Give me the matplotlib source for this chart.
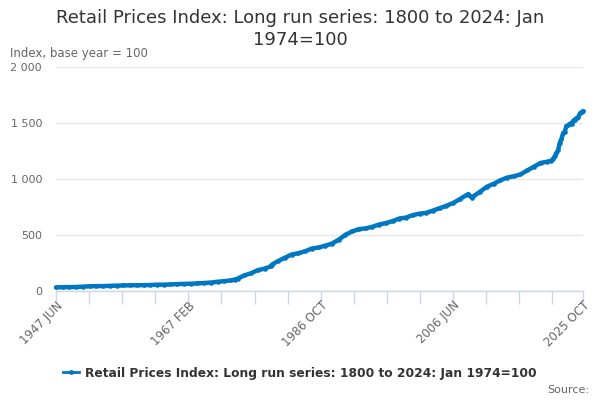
import matplotlib
matplotlib.use("Agg")
import matplotlib.pyplot as plt
from matplotlib.lines import Line2D

# ---- data (Jan 1974 = 100) ----
dates = [
    "1947-06", "1948-06", "1949-06", "1950-06", "1951-06", "1952-06", "1953-06",
    "1954-06", "1955-06", "1956-06", "1957-06", "1958-06", "1959-06", "1960-06",
    "1961-06", "1962-06", "1963-06", "1964-06", "1965-06", "1966-06", "1967-06",
    "1968-06", "1969-06", "1970-06", "1971-06", "1972-06", "1973-06", "1974-01",
    "1974-06", "1975-06", "1976-06", "1977-06", "1978-06", "1979-06", "1979-07",
    "1980-06", "1981-06", "1982-06", "1983-06", "1984-06", "1985-06", "1986-06",
    "1987-06", "1988-06", "1989-06", "1990-06", "1991-06", "1992-06", "1993-06",
    "1994-06", "1995-06", "1996-06", "1997-06", "1998-06", "1999-06", "2000-06",
    "2001-06", "2002-06", "2003-06", "2004-06", "2005-06", "2006-06", "2007-06",
    "2008-06", "2008-09", "2009-03", "2009-06", "2010-06", "2011-06", "2012-06",
    "2013-06", "2014-06", "2015-06", "2016-06", "2017-06", "2018-06", "2019-06",
    "2020-06", "2021-01", "2021-04", "2021-07", "2021-10", "2022-01", "2022-04",
    "2022-07", "2022-10", "2023-01", "2023-04", "2023-07", "2023-10", "2024-01",
    "2024-04", "2024-07", "2024-10", "2025-01", "2025-04", "2025-07", "2025-10",
]
values = [
    29.2, 31.6, 32.0, 33.1, 36.3, 39.5, 40.6,
    41.4, 43.4, 45.4, 46.9, 48.5, 48.5, 49.3,
    50.9, 53.3, 54.0, 56.0, 58.8, 60.8, 62.3,
    65.1, 68.6, 72.6, 80.1, 85.2, 92.3, 100.0,
    108.7, 136.5, 156.6, 183.8, 197.2, 219.3, 233.0,
    265.0, 294.3, 323.0, 334.5, 351.8, 376.4, 385.8,
    402.0, 420.5, 455.3, 499.8, 529.0, 549.5, 556.2,
    570.8, 591.0, 603.6, 621.3, 644.6, 653.3, 675.0,
    688.0, 695.1, 715.2, 736.9, 758.2, 783.1, 817.8,
    855.3, 861.6, 832.0, 841.9, 884.0, 927.9, 953.9,
    985.0, 1009.5, 1022.0, 1038.0, 1074.0, 1107.0, 1141.0,
    1152.0, 1161.0, 1178.0, 1199.0, 1231.0, 1253.0, 1320.0,
    1354.0, 1405.0, 1421.0, 1471.0, 1476.0, 1491.0, 1488.0,
    1517.0, 1528.0, 1541.0, 1547.0, 1583.0, 1595.0, 1604.0,
]
tick_label_dates = ["1947-06", "1967-02", "1986-10", "2006-06", "2025-10"]
tick_labels = ["1947 JUN", "1967 FEB", "1986 OCT", "2006 JUN", "2025 OCT"]
y_ticks = [0, 500, 1000, 1500, 2000]
y_tick_labels = ["0", "500", "1 000", "1 500", "2 000"]
series_name = "Retail Prices Index: Long run series: 1800 to 2024: Jan 1974=100"
title_lines = ["Retail Prices Index: Long run series: 1800 to 2024: Jan", "1974=100"]
y_title = "Index, base year = 100"


def month_index(d):
    y, m = d.split("-")
    return (int(y) - 1947) * 12 + (int(m) - 6)


x = [month_index(d) for d in dates]
label_pos = [month_index(d) for d in tick_label_dates]
# minor ticks: 4 per labelled interval, plus end
step = (label_pos[1] - label_pos[0]) // 4
minor = list(range(label_pos[0], label_pos[-1], step)) + [label_pos[-1]]

COLOR = "#0077c2"
W, H = 600, 400
fig = plt.figure(figsize=(6, 4), dpi=100)
ax = fig.add_axes([56 / W, 1 - 290.7 / H, (583.3 - 56) / W, (290.7 - 66.7) / H])

ax.plot(x, values, color=COLOR, lw=3.2, marker="o", ms=3.3, mew=0,
        solid_capstyle="round", solid_joinstyle="round", zorder=3, clip_on=False)

ax.set_xlim(label_pos[0], label_pos[-1])
ax.set_ylim(0, 2000)

ax.set_yticks(y_ticks)
ax.set_yticklabels(y_tick_labels)
ax.yaxis.grid(True, color="#e6e6e6", lw=1)
ax.set_axisbelow(True)
ax.tick_params(axis="y", length=0, pad=10, labelsize=8, labelcolor="#666666")

ax.set_xticks(minor)
ax.set_xticklabels([tick_labels[label_pos.index(p)] if p in label_pos else "" for p in minor],
                   rotation=45, ha="right", va="top", rotation_mode="anchor")
ax.tick_params(axis="x", length=9, width=1, color="#ccd6eb", pad=-3,
               labelsize=8.5, labelcolor="#666666")

for s in ["top", "right", "left"]:
    ax.spines[s].set_visible(False)
ax.spines["bottom"].set_color("#ccd6eb")
ax.spines["bottom"].set_linewidth(1)

fig.text(0.5, 1 - 18 / H, title_lines[0], ha="center", va="center", fontsize=13,
         color="#333333")
fig.text(0.5, 1 - 40 / H, title_lines[1], ha="center", va="center", fontsize=13,
         color="#333333")
fig.text(10 / W, 1 - 53 / H, y_title, ha="left", va="center", fontsize=8.5,
         color="#666666")

handle = Line2D([0], [0], color=COLOR, lw=2, marker="o", ms=3.5, mew=0)
fig.legend([handle], [series_name], loc="center", bbox_to_anchor=(0.5, 1 - 373 / H),
           frameon=False, handlelength=1.3, handletextpad=0.5,
           prop={"weight": "bold", "size": 8.8}, labelcolor="#333333")

fig.text(589 / W, 1 - 390 / H, "Source:", ha="right", va="center", fontsize=8,
         color="#666666")

fig.savefig("out.png", dpi=100)
